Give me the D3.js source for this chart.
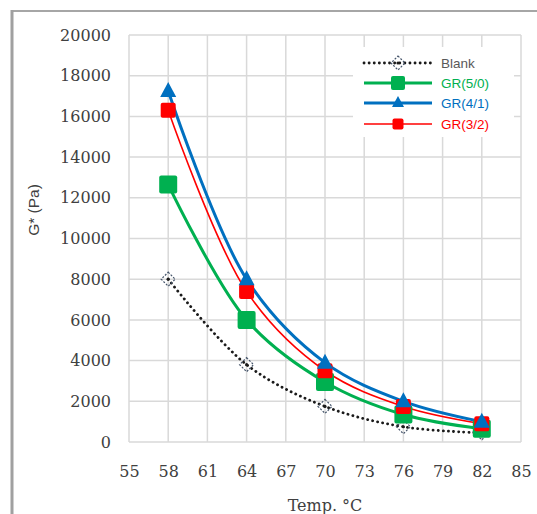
<!DOCTYPE html>
<html><head><meta charset="utf-8">
<script src="https://cdn.jsdelivr.net/npm/d3@7"></script>
<style>body{margin:0;background:#fff;}svg{display:block;}</style>
</head><body>
<script>
const temps = [58, 64, 70, 76, 82];
const blank = [8000, 3800, 1750, 750, 450];
const gr50 = [12650, 6000, 2950, 1350, 650];
const gr41 = [17250, 8000, 3900, 2000, 1000];
const gr32 = [16300, 7400, 3500, 1750, 900];
const xTicks = [55, 58, 61, 64, 67, 70, 73, 76, 79, 82, 85];
const yTicks = [0, 2000, 4000, 6000, 8000, 10000, 12000, 14000, 16000, 18000, 20000];
const seriesNames = ["Blank", "GR(5/0)", "GR(4/1)", "GR(3/2)"];

const W = 537, H = 514;
const svg = d3.select("body").append("svg").attr("width", W).attr("height", H);
svg.append("rect").attr("width", W).attr("height", H).attr("fill", "#fff");

// outer chart border
svg.append("line").attr("x1", 12).attr("x2", W).attr("y1", 11).attr("y2", 11)
  .attr("stroke", "#a6a6a6").attr("stroke-width", 2);
svg.append("line").attr("x1", 12).attr("x2", 12).attr("y1", 10).attr("y2", H)
  .attr("stroke", "#a0a0a0").attr("stroke-width", 3);

const x = d3.scaleLinear().domain([55, 85]).range([129, 521]);
const y = d3.scaleLinear().domain([0, 20000]).range([442, 35]);

// gridlines
const grid = svg.append("g").attr("stroke", "#d9d9d9").attr("stroke-width", 1.5);
grid.selectAll(".gx").data(xTicks).enter().append("line")
  .attr("x1", d => x(d)).attr("x2", d => x(d)).attr("y1", y(0)).attr("y2", y(20000));
grid.selectAll(".gy").data(yTicks).enter().append("line")
  .attr("x1", x(55)).attr("x2", x(85)).attr("y1", d => y(d)).attr("y2", d => y(d));

// axes (labels only)
const serif = "'DejaVu Serif', serif";
const yAxis = svg.append("g").attr("transform", `translate(${x(55) - 18},0)`)
  .call(d3.axisLeft(y).tickValues(yTicks).tickSize(0).tickPadding(0).tickFormat(d => String(d)));
yAxis.select(".domain").remove();
yAxis.selectAll("text").attr("font-family", serif).attr("font-size", 16).attr("fill", "#404040");

const xAxis = svg.append("g").attr("transform", `translate(0,${y(0) + 24})`)
  .call(d3.axisBottom(x).tickValues(xTicks).tickSize(0).tickPadding(0).tickFormat(d => String(d)));
xAxis.select(".domain").remove();
xAxis.selectAll("text").attr("font-family", serif).attr("font-size", 16).attr("fill", "#404040");

svg.append("text").attr("x", 325).attr("y", 511).attr("text-anchor", "middle")
  .attr("font-family", serif).attr("font-size", 16).attr("fill", "#404040").text("Temp. °C");
svg.append("text").attr("transform", "translate(39,210) rotate(-90)").attr("text-anchor", "middle")
  .attr("font-family", "'Liberation Sans', Arial, sans-serif").attr("font-size", 15.5).attr("fill", "#404040").text("G* (Pa)");

const series = [
  {name: seriesNames[0], vals: blank, color: "#1a1a1a", width: 2.8, dash: "0.1,5", marker: "diamond", mcolor: "#44546a", text: "#595959"},
  {name: seriesNames[1], vals: gr50, color: "#00b050", width: 3, dash: null, marker: "square", size: 18, mcolor: "#00b050", text: "#00b050"},
  {name: seriesNames[2], vals: gr41, color: "#0070c0", width: 3, dash: null, marker: "triangle", size: 16, mcolor: "#0070c0", text: "#0070c0"},
  {name: seriesNames[3], vals: gr32, color: "#ff0000", width: 1.6, dash: null, marker: "square", size: 15, mcolor: "#ff0000", text: "#ff0000"}
];

const line = d3.line().x(d => x(d[0])).y(d => y(d[1])).curve(d3.curveCatmullRom.alpha(0.5));

function drawMarker(g, s, cx, cy) {
  if (s.marker === "diamond") {
    g.append("path").attr("d", `M${cx},${cy-7}L${cx+7},${cy}L${cx},${cy+7}L${cx-7},${cy}Z`)
      .attr("fill", "none").attr("stroke", s.mcolor).attr("stroke-width", 1.2).attr("stroke-dasharray", "2,1.5");
    g.append("circle").attr("cx", cx).attr("cy", cy).attr("r", 1.6).attr("fill", "#1a1a1a");
  } else if (s.marker === "square") {
    const h = s.size / 2;
    g.append("rect").attr("x", cx - h).attr("y", cy - h).attr("width", s.size).attr("height", s.size)
      .attr("rx", 2).attr("fill", s.mcolor);
  } else if (s.marker === "triangle") {
    const h = s.size / 2;
    g.append("path").attr("d", `M${cx},${cy-h-1}L${cx+h},${cy+h-2}L${cx-h},${cy+h-2}Z`).attr("fill", s.mcolor);
  }
}

// draw order: blank, green, red, blue lines; markers
const order = [0, 1, 3, 2];
order.forEach(i => {
  const s = series[i];
  const pts = temps.map((t, k) => [t, s.vals[k]]);
  svg.append("path").datum(pts).attr("d", line).attr("fill", "none")
    .attr("stroke", s.color).attr("stroke-width", s.width)
    .attr("stroke-dasharray", s.dash).attr("stroke-linecap", s.dash ? "round" : "butt");
});
order.forEach(i => {
  const s = series[i];
  const g = svg.append("g");
  temps.forEach((t, k) => drawMarker(g, s, x(t), y(s.vals[k])));
});

// legend
const lg = svg.append("g");
lg.append("rect").attr("x", 353).attr("y", 47).attr("width", 161).attr("height", 90).attr("fill", "#fff");
const legY = [63, 83, 103, 124];
series.forEach((s, i) => {
  const yy = legY[i];
  lg.append("line").attr("x1", 364).attr("x2", 432).attr("y1", yy).attr("y2", yy)
    .attr("stroke", s.color).attr("stroke-width", s.width)
    .attr("stroke-dasharray", s.dash).attr("stroke-linecap", s.dash ? "round" : "butt");
  const ms = Object.assign({}, s, {size: s.marker === "square" ? (i === 1 ? 14 : 11) : 12});
  drawMarker(lg, ms, 398, yy);
  lg.append("text").attr("x", 441).attr("y", yy + 5).attr("font-family", "'Liberation Sans', Arial, sans-serif")
    .attr("font-size", 13.5).attr("fill", s.text).text(s.name);
});
</script>
</body></html>
